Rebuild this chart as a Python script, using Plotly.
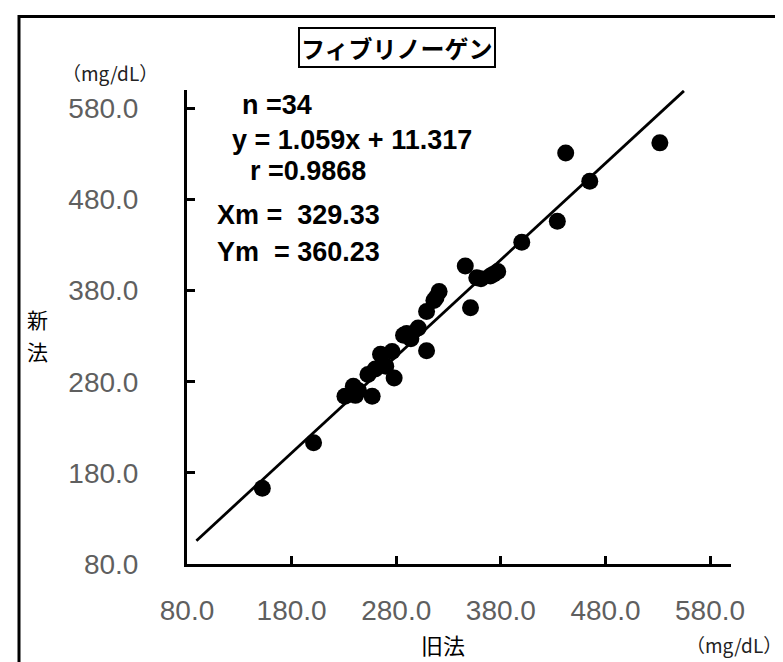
import plotly.graph_objects as go

# ---- data ----
old_method = [152, 201, 231, 239, 241, 257, 253, 265, 270, 276, 278, 287, 294, 301,
              309, 309, 318, 321, 346, 351, 357, 370, 377, 400, 434, 442, 465, 532,
              373, 361, 316, 290, 260, 244]
new_method = [163, 213, 264, 275, 265, 264, 288, 310, 297, 313, 284, 331, 327, 339,
              314, 357, 372, 379, 407, 361, 394, 396, 401, 433, 456, 531, 500, 542,
              398, 393, 369, 333, 294, 270]
slope = 1.059
intercept = 11.317
line_x = [89, 555]
tick_vals = [80, 180, 280, 380, 480, 580]
tick_text = ["80.0", "180.0", "280.0", "380.0", "480.0", "580.0"]
stat_lines = ["n =34", "y = 1.059x + 11.317", "r =0.9868", "Xm =  329.33", "Ym  = 360.23"]
y_title_chars = ["新", "法"]

W, H = 783, 662
ML, MR, MT, MB = 179, 60, 82, 106
PW, PH = W - ML - MR, H - MT - MB


def px(x):
    return (x - ML) / PW


def py(y):
    return (H - MB - y) / PH


fig = go.Figure()
fig.add_trace(go.Scatter(
    x=line_x, y=[slope * v + intercept for v in line_x], mode="lines",
    line=dict(color="black", width=2.8), showlegend=False, hoverinfo="skip"))
fig.add_trace(go.Scatter(
    x=old_method, y=new_method, mode="markers",
    marker=dict(color="black", size=17, line=dict(width=0)), showlegend=False))

axis_common = dict(
    range=[80, 600], showgrid=False, zeroline=False, showline=True,
    linecolor="black", linewidth=3, ticks="inside", ticklen=8, tickwidth=3,
    tickcolor="black", tickvals=tick_vals, ticktext=tick_text,
    tickfont=dict(family="Arial, Liberation Sans, sans-serif", size=28, color="#5f5f5f"),
)
fig.update_xaxes(**axis_common, ticklabelstandoff=19)
fig.update_yaxes(**axis_common, ticklabelstandoff=40)

ann = []
# title box
ann.append(dict(x=px(389), y=py(40), xref="paper", yref="paper", text="<b>フィブリノーゲン</b>",
                showarrow=False, font=dict(family="Noto Sans CJK JP", size=24, color="black"),
                bordercolor="black", borderwidth=2, borderpad=1, bgcolor="white",
                xanchor="center", yanchor="middle"))
# units
unit_font = dict(family="Noto Sans CJK JP", size=19, color="#222222")
ann.append(dict(x=px(102), y=py(64), xref="paper", yref="paper", text="（mg/dL）",
                showarrow=False, font=unit_font, xanchor="center", yanchor="middle"))
ann.append(dict(x=px(726), y=py(636), xref="paper", yref="paper", text="（mg/dL）",
                showarrow=False, font=unit_font, xanchor="center", yanchor="middle"))
# axis titles
cjk = dict(family="Noto Sans CJK JP", size=21, color="black")
for ch, cy in zip(y_title_chars, [311, 343]):
    ann.append(dict(x=px(29), y=py(cy), xref="paper", yref="paper", text=ch,
                    showarrow=False, font=cjk, xanchor="center", yanchor="middle", borderpad=0))
ann.append(dict(x=px(435), y=py(636), xref="paper", yref="paper", text="旧法",
                showarrow=False, font=dict(family="Noto Sans CJK JP", size=22, color="black"),
                xanchor="center", yanchor="middle"))
# stats
stat_pos = [(232, 97), (222, 132), (240, 163), (207, 207), (207, 244)]
for t, (sx, sy) in zip(stat_lines, stat_pos):
    ann.append(dict(x=px(sx), y=py(sy), xref="paper", yref="paper", text="<b>" + t + "</b>",
                    showarrow=False, xanchor="left", yanchor="middle",
                    font=dict(family="Arial, Liberation Sans, sans-serif", size=27, color="black")))

shapes = [dict(type="rect", xref="paper", yref="paper",
               x0=px(11), x1=px(W + 20), y0=py(H + 20), y1=py(8.5),
               line=dict(color="black", width=3), fillcolor="rgba(0,0,0,0)", layer="below")]

fig.update_layout(
    width=W, height=H, margin=dict(l=ML, r=MR, t=MT, b=MB, pad=0),
    plot_bgcolor="white", paper_bgcolor="white",
    annotations=ann, shapes=shapes, showlegend=False,
)

fig.write_html("out.html")
